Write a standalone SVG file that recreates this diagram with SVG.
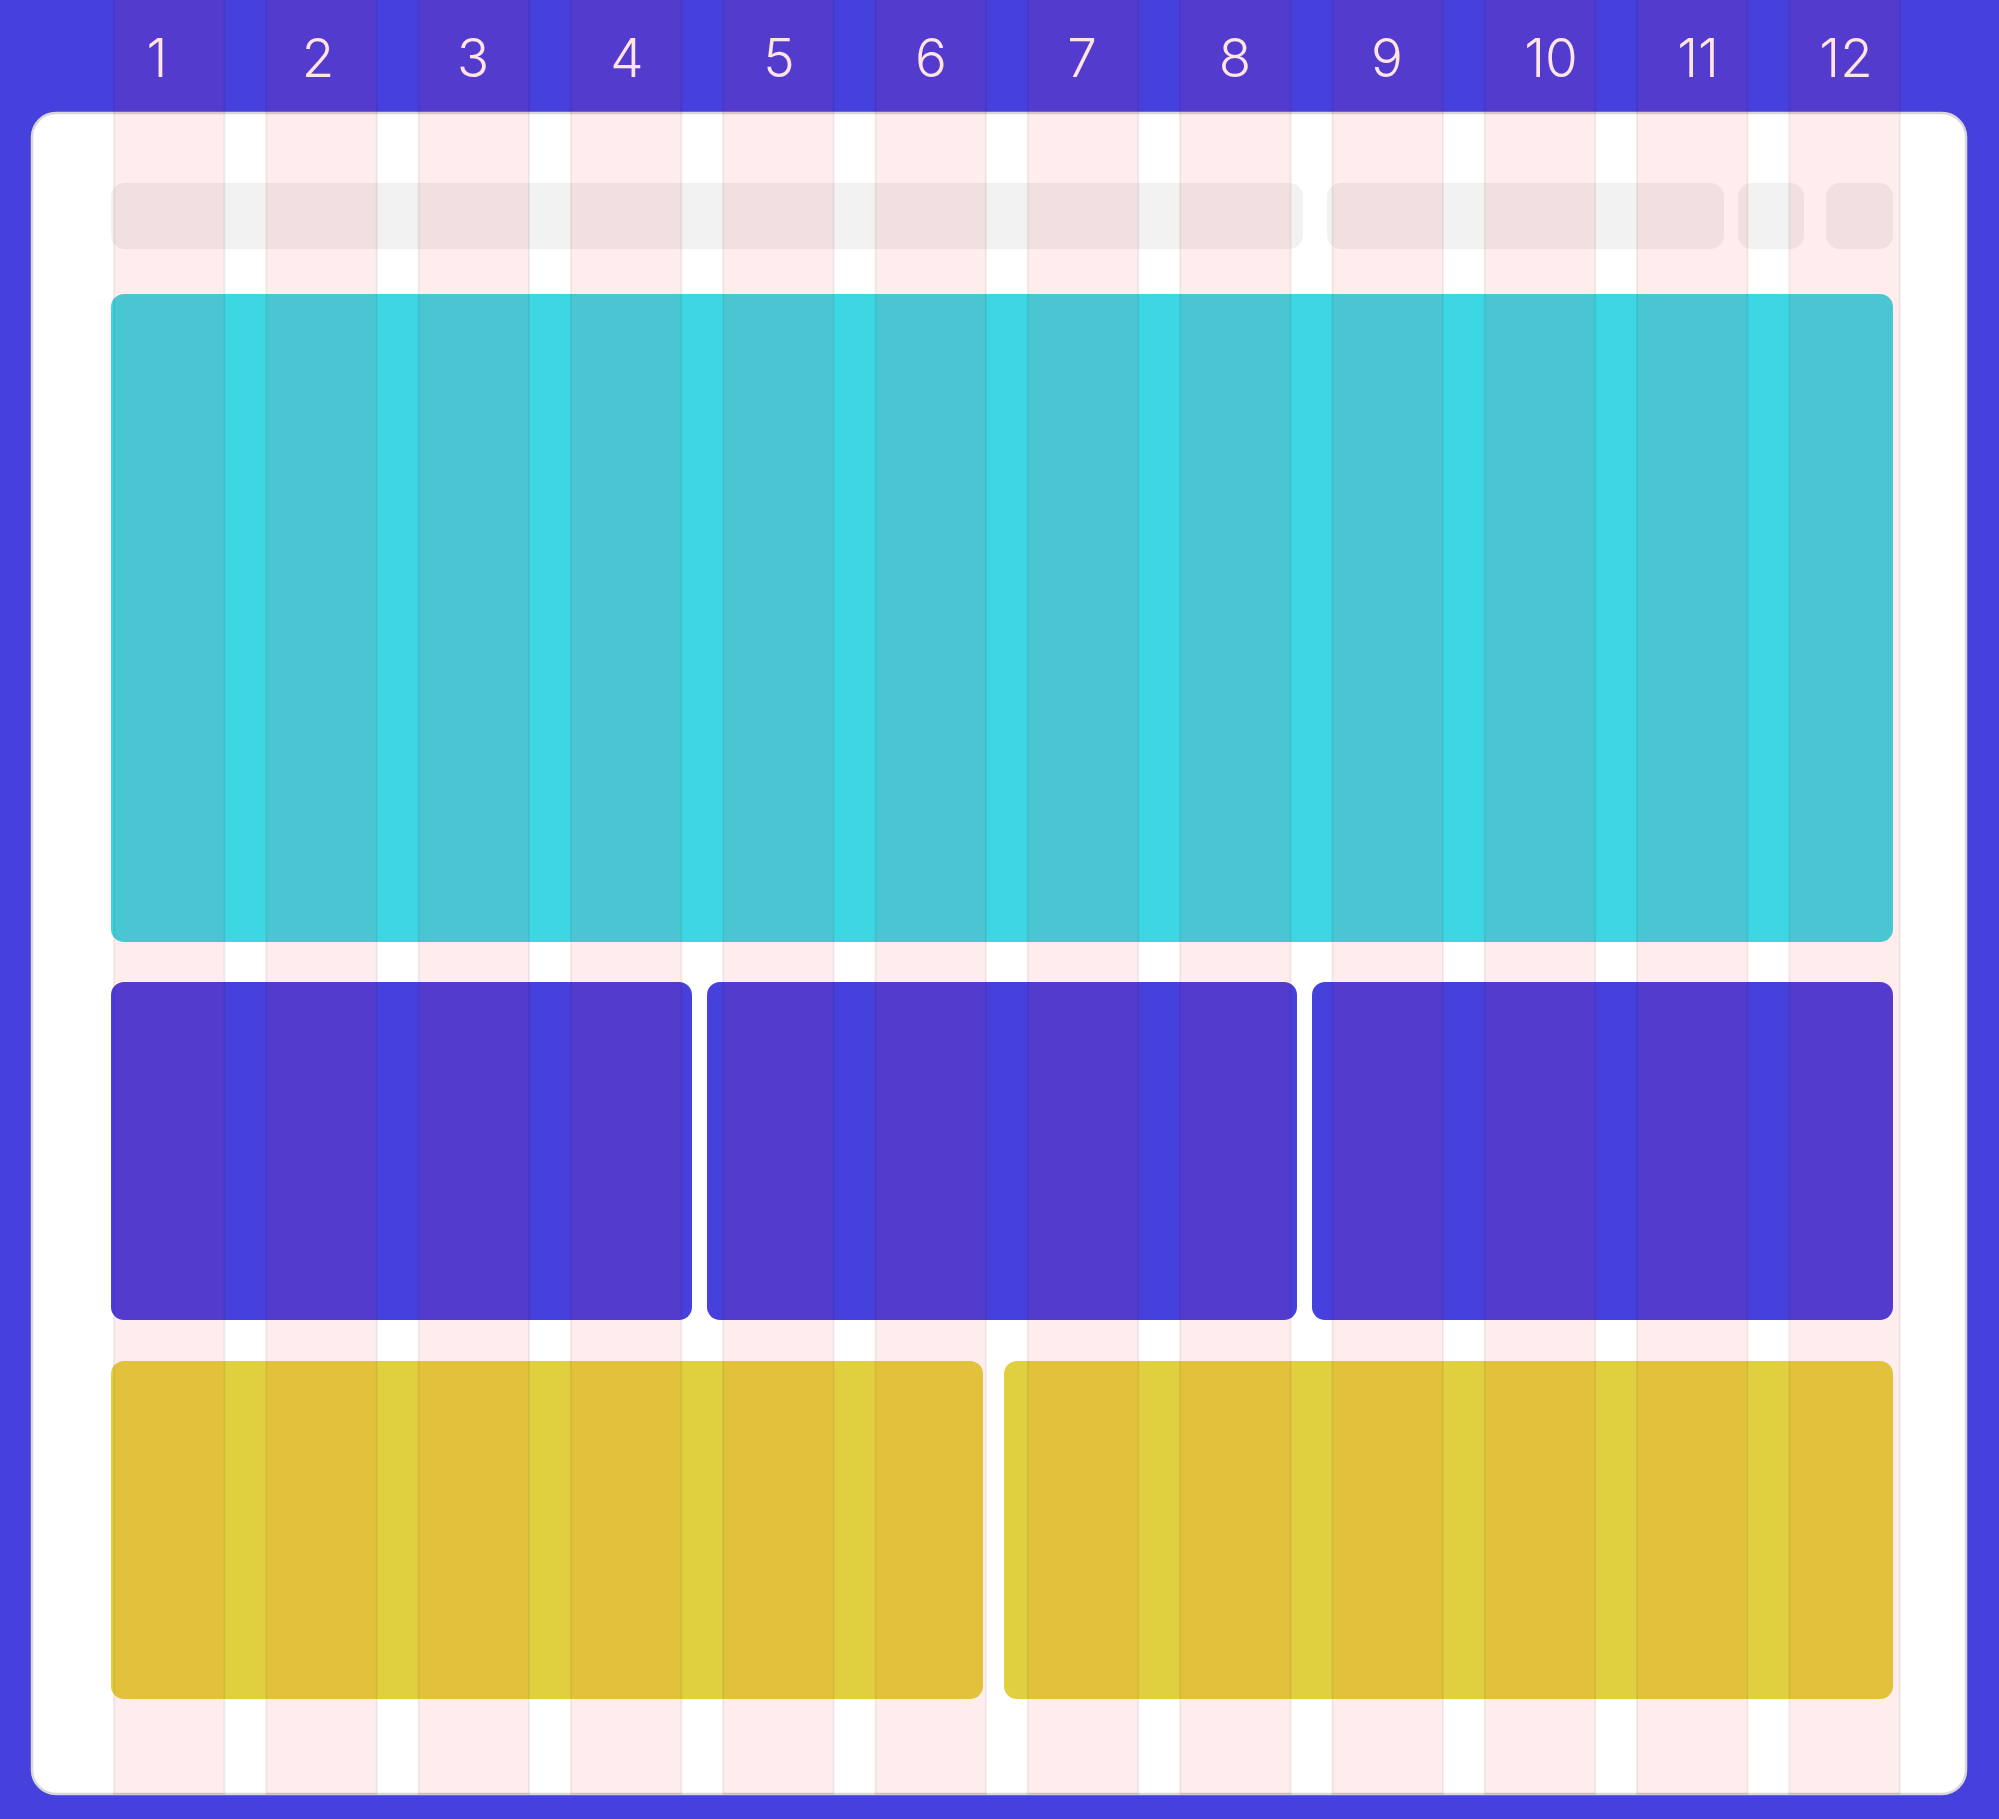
<svg xmlns="http://www.w3.org/2000/svg" width="1999" height="1819" viewBox="0 0 1999 1819">
  <style>
    .num { font-family: Inter, "Noto Sans", "Liberation Sans", sans-serif; font-size: 53px; font-weight: 300; fill: #fff6f6; text-anchor: middle; }
    .bar { fill: #f2f2f2; }
    .teal { fill: #3dd6e3; }
    .violet { fill: #4640dd; }
    .yellow { fill: #e0d040; }
    .col { fill: rgba(255,0,0,0.07); stroke: rgba(0,0,0,0.06); stroke-width: 2; }
  </style>
  <rect x="0" y="0" width="1999" height="1819" fill="#4640dd"/>
  <g id="header-numbers">
    <text class="num" x="157" y="77">1</text>
    <text class="num" x="318" y="77">2</text>
    <text class="num" x="473" y="77">3</text>
    <text class="num" x="627" y="77">4</text>
    <text class="num" x="779" y="77">5</text>
    <text class="num" x="931" y="77">6</text>
    <text class="num" x="1082" y="77">7</text>
    <text class="num" x="1235" y="77">8</text>
    <text class="num" x="1387" y="77">9</text>
    <text class="num" x="1551" y="77">10</text>
    <text class="num" x="1698" y="77">11</text>
    <text class="num" x="1846" y="77">12</text>
  </g>
  <g id="card">
    <rect x="32" y="113" width="1934" height="1681" rx="24" ry="24" fill="#ffffff" stroke="#d8d8d8" stroke-width="2.5"/>
  </g>
  <g id="top-bars">
    <rect class="bar" x="111" y="183" width="1192" height="66" rx="14"/>
    <rect class="bar" x="1327" y="183" width="397" height="66" rx="14"/>
    <rect class="bar" x="1738" y="183" width="66" height="66" rx="14"/>
    <rect class="bar" x="1826" y="183" width="67" height="66" rx="14"/>
  </g>
  <g id="hero">
    <rect class="teal" x="111" y="294" width="1782" height="648" rx="13"/>
  </g>
  <g id="row-three">
    <rect class="violet" x="111" y="982" width="581" height="338" rx="13"/>
    <rect class="violet" x="707" y="982" width="590" height="338" rx="13"/>
    <rect class="violet" x="1312" y="982" width="581" height="338" rx="13"/>
  </g>
  <g id="row-two">
    <rect class="yellow" x="111" y="1361" width="872" height="338" rx="13"/>
    <rect class="yellow" x="1004" y="1361" width="889" height="338" rx="13"/>
  </g>
  <g id="grid-columns">
    <rect class="col" x="114" y="-2" width="110.5" height="1796"/>
    <rect class="col" x="266.3" y="-2" width="110.5" height="1796"/>
    <rect class="col" x="418.6" y="-2" width="110.5" height="1796"/>
    <rect class="col" x="570.9" y="-2" width="110.5" height="1796"/>
    <rect class="col" x="723.2" y="-2" width="110.5" height="1796"/>
    <rect class="col" x="875.5" y="-2" width="110.5" height="1796"/>
    <rect class="col" x="1027.8" y="-2" width="110.5" height="1796"/>
    <rect class="col" x="1180.1" y="-2" width="110.5" height="1796"/>
    <rect class="col" x="1332.4" y="-2" width="110.5" height="1796"/>
    <rect class="col" x="1484.7" y="-2" width="110.5" height="1796"/>
    <rect class="col" x="1637" y="-2" width="110.5" height="1796"/>
    <rect class="col" x="1789.3" y="-2" width="110.5" height="1796"/>
  </g>
  <g id="connectors"/>
</svg>
